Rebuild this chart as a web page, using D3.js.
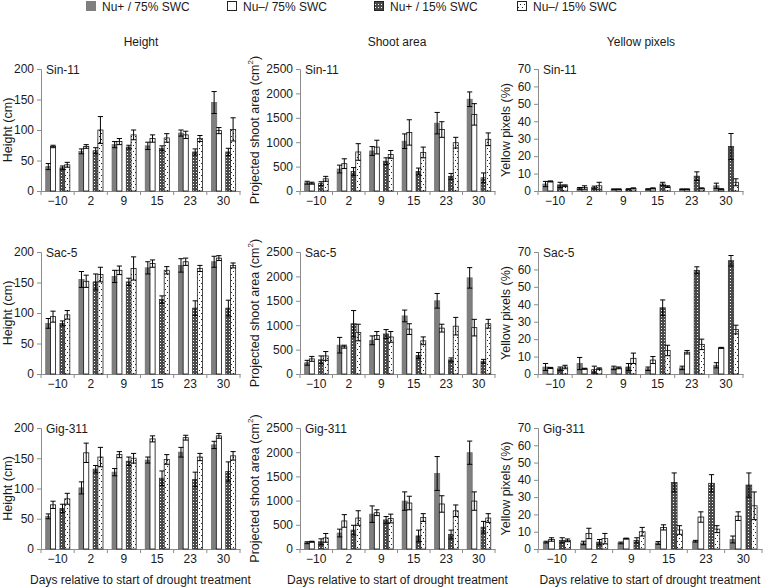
<!DOCTYPE html>
<html><head><meta charset="utf-8">
<script src="https://cdn.jsdelivr.net/npm/d3@7"></script>
<style>body{margin:0;background:#fff}svg{display:block;font-family:"Liberation Sans",Arial,Helvetica,sans-serif}</style>
</head><body><svg id="c" width="764" height="588"></svg>
<script>
// ---------- data ----------
const categories = ["\u221210","2","9","15","23","30"];
const seriesNames = ["Nu+ / 75% SWC","Nu\u2013/ 75% SWC","Nu+ / 15% SWC","Nu\u2013/ 15% SWC"];
const genotypes = ["Sin-11","Sac-5","Gig-311"];
const traitTitles = ["Height","Shoot area","Yellow pixels"];
const heightTicks = [0,50,100,150,200];
const shootTicks = [0,500,1000,1500,2000,2500];
const yellowTicks = [0,10,20,30,40,50,60,70];

// values: [series][category]
const sin11HeightMean = [[40,65,76,74,95,145],[73,73,81,86,92,99],[38,66,72,70,64,64],[43,100,92,87,86,101]];
const sin11HeightErr  = [[5,4,5,6,5,18],[2,3,5,6,6,5],[3,5,3,4,5,6],[4,22,8,7,5,19]];
const sin11ShootMean  = [[170,450,820,1020,1390,1880],[160,560,900,1200,1260,1570],[150,400,610,400,300,270],[250,800,750,790,990,1060]];
const sin11ShootErr   = [[30,80,90,150,220,150],[20,100,140,260,160,220],[40,80,70,70,60,100],[50,170,80,110,110,130]];
const sin11YellowMean = [[4,1.5,1,1,1,3],[5.5,2,1,1.5,1,1],[3.5,2,1,4,8.5,25.5],[3,3,1.5,2.5,1.5,5]];
const sin11YellowErr  = [[1.5,0.5,0.2,0.3,0.2,1.5],[0.3,1,0.2,0.3,0.2,0.3],[1.5,0.8,0.3,1,2.5,7.5],[0.5,2,0.3,0.5,0.3,2]];

const sac5HeightMean = [[83,155,160,174,178,184],[94,152,170,181,184,190],[83,151,151,122,108,108],[97,163,173,170,173,178]];
const sac5HeightErr  = [[8,13,10,10,11,9],[9,10,7,6,6,4],[4,13,6,6,12,13],[7,12,19,6,5,4]];
const sac5ShootMean  = [[230,590,690,1190,1500,1970],[310,560,790,920,940,950],[290,1030,820,380,290,260],[370,850,760,680,980,1030]];
const sac5ShootErr   = [[50,160,90,120,150,210],[50,30,80,110,80,170],[80,270,90,60,40,40],[90,170,110,80,180,90]];
const sac5YellowMean = [[4,6,3.5,3,3.5,5],[3.5,3,3.5,8,12.5,15],[3,2.5,4,38,59.5,65],[4,3,9,13.5,17,25.5]];
const sac5YellowErr  = [[2,3.5,1,1,1,1.5],[0.3,0.3,0.5,2,1,0.3],[1,2,2,4.5,2,3],[1,0.5,3,3,3,2.5]];

const gig311HeightMean = [[54,101,127,147,160,172],[73,159,156,182,184,187],[67,132,145,117,115,128],[83,152,150,148,152,154]];
const gig311HeightErr  = [[4,10,6,5,8,6],[6,16,5,5,4,4],[7,6,7,12,12,16],[9,16,8,8,6,7]];
const gig311ShootMean  = [[130,330,720,990,1560,1990],[150,580,750,950,930,990],[150,390,600,270,300,450],[230,640,630,650,790,640]];
const gig311ShootErr   = [[20,80,170,190,350,240],[10,130,60,140,170,190],[60,100,70,120,90,120],[90,150,90,80,120,90]];
const gig311YellowMean = [[4,3.5,3.5,3.5,4.5,5.5],[5.5,9,6,12.5,18.5,19],[5,4,5,38.5,38,37],[5,6,10,11,11.5,25]];
const gig311YellowErr  = [[0.5,1,0.5,0.8,0.5,2],[1,3,0.3,1.5,3,2.5],[1.5,1.5,1.5,5.5,5,7],[0.8,3,2.5,2.5,2,8]];

// ---------- layout ----------
const svg = d3.select("#c");
const TXT = "#1a1a1a", AX = "#8c8c8c";
const defs = svg.append("defs");
const pd = defs.append("pattern").attr("id","pDark").attr("patternUnits","userSpaceOnUse").attr("width",3).attr("height",3);
pd.append("rect").attr("width",3).attr("height",3).attr("fill","#4a4a4a");
pd.append("rect").attr("x",1).attr("y",1).attr("width",1).attr("height",1).attr("fill","#fff");
const pw = defs.append("pattern").attr("id","pWhite").attr("patternUnits","userSpaceOnUse").attr("width",4).attr("height",6);
pw.append("rect").attr("width",4).attr("height",6).attr("fill","#fff");
pw.append("rect").attr("x",1).attr("y",1).attr("width",1).attr("height",1).attr("fill","#222");
pw.append("rect").attr("x",3).attr("y",4).attr("width",1).attr("height",1).attr("fill","#222");

const fills = ["#7f7f7f","#fff","url(#pDark)","url(#pWhite)"];
const strokes = ["#6f6f6f","#111","#333","#222"];
const slotOf = [1,2,4,5];

const data = [
  [[sin11HeightMean,sin11HeightErr],[sin11ShootMean,sin11ShootErr],[sin11YellowMean,sin11YellowErr]],
  [[sac5HeightMean,sac5HeightErr],[sac5ShootMean,sac5ShootErr],[sac5YellowMean,sac5YellowErr]],
  [[gig311HeightMean,gig311HeightErr],[gig311ShootMean,gig311ShootErr],[gig311YellowMean,gig311YellowErr]]
];
const colCfg = [
  {ticks:heightTicks, ytitle:"Height (cm)", x0:41, x1:240, tx:9, title:141},
  {ticks:shootTicks, ytitle:"Projected shoot area (cm", sup:true, x0:300, x1:495, tx:256, title:397},
  {ticks:yellowTicks, ytitle:"Yellow pixels (%)", x0:538, x1:743, tx:507, title:641}
];
const rowCfg = [{y0:191,yt:69},{y0:374,yt:252},{y0:549,yt:428}];

// legend
const legX = [86,227,374,517];
seriesNames.forEach((s,i)=>{
  const g = svg.append("g").attr("transform",`translate(${legX[i]},0)`);
  g.append("rect").attr("x",0.5).attr("y",1.5).attr("width",9).attr("height",9)
   .attr("fill",fills[i]).attr("stroke",i===0?"#7f7f7f":"#222").attr("stroke-width",1);
  g.append("text").attr("x",16).attr("y",11).attr("font-size",12).attr("fill",TXT).text(s);
});
// column titles
colCfg.forEach((c,j)=>{
  svg.append("text").attr("x",c.title).attr("y",46).attr("text-anchor","middle")
    .attr("font-size",12).attr("fill",TXT).text(traitTitles[j]);
});

rowCfg.forEach((r,i)=>{
  colCfg.forEach((c,j)=>{
    const x1e = (i===2 && j===2) ? 762 : c.x1;
    const [mean, err] = data[i][j];
    const max = c.ticks[c.ticks.length-1];
    const x = d3.scaleBand().domain(categories).range([c.x0, x1e]).padding(0);
    const xs = d3.scaleBand().domain(d3.range(7)).range([0, x.bandwidth()]).padding(0);
    const y = d3.scaleLinear().domain([0,max]).range([r.y0, r.yt]);
    const g = svg.append("g");
    // axes
    const ya = g.append("g").attr("transform",`translate(${c.x0},0)`)
      .call(d3.axisLeft(y).tickValues(c.ticks).tickFormat(d3.format("d")).tickSize(4).tickPadding(3));
    ya.select(".domain").attr("stroke",AX);
    ya.selectAll(".tick line").attr("stroke",AX);
    ya.selectAll("text").attr("font-size",12).attr("fill",TXT).attr("font-family",null);
    const xa = g.append("g").attr("transform",`translate(0,${r.y0})`)
      .call(d3.axisBottom(x).tickSize(0).tickPadding(5));
    xa.select(".domain").attr("stroke",AX);
    xa.selectAll("text").attr("font-size",12).attr("fill",TXT).attr("font-family",null);
    // boundary ticks
    const bounds = categories.map(k=>x(k)).concat([x1e]);
    g.selectAll("line.bt").data(bounds).enter().append("line")
      .attr("x1",d=>d).attr("x2",d=>d).attr("y1",r.y0).attr("y2",r.y0+4).attr("stroke",AX);
    // bars
    const bw = xs.bandwidth()+0.4;
    mean.forEach((arr,s)=>{
      arr.forEach((v,k)=>{
        const cx = x(categories[k]) + xs(slotOf[s]);
        g.append("rect").attr("x",cx).attr("y",y(v)).attr("width",bw).attr("height",r.y0-y(v))
          .attr("fill",fills[s]).attr("stroke",strokes[s]).attr("stroke-width",0.8);
      });
    });
    // error bars
    mean.forEach((arr,s)=>{
      arr.forEach((v,k)=>{
        const e = err[s][k];
        const mx = x(categories[k]) + xs(slotOf[s]) + bw/2;
        const lo = y(Math.max(0,v-e)), hi = y(v+e);
        g.append("line").attr("x1",mx).attr("x2",mx).attr("y1",lo).attr("y2",hi).attr("stroke","#000").attr("stroke-width",1);
        [lo,hi].forEach(yy=>g.append("line").attr("x1",mx-2.6).attr("x2",mx+2.6).attr("y1",yy).attr("y2",yy).attr("stroke","#000").attr("stroke-width",1));
      });
    });
    // genotype label
    g.append("text").attr("x",c.x0+5).attr("y",r.yt+4.5).attr("font-size",12).attr("fill",TXT).text(genotypes[i]);
    // y title
    const cy = (r.y0+r.yt)/2;
    const t = g.append("text").attr("transform",`translate(${c.tx},${cy}) rotate(-90)`)
      .attr("text-anchor","middle").attr("dominant-baseline","middle").attr("font-size",12.5).attr("fill",TXT);
    t.append("tspan").text(c.ytitle);
    if (c.sup) { t.append("tspan").attr("font-size",8).attr("dy",-5).text("2"); t.append("tspan").attr("dy",5).text(")"); }
    // x title
    if (i===2) {
      g.append("text").attr("x",(c.x0+x1e)/2).attr("y",584).attr("text-anchor","middle")
        .attr("font-size",12).attr("fill",TXT).text("Days relative to start of drought treatment");
    }
  });
});
</script></body></html>
